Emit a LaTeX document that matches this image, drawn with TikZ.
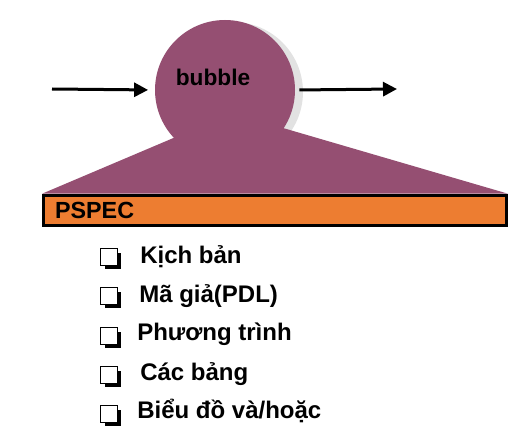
\documentclass[tikz,border=0pt]{standalone}
\usepackage{fontspec}
\setmainfont{Liberation Sans}
\usetikzlibrary{arrows.meta,positioning,shadows}
\definecolor{BubblePurple}{RGB}{149,79,114}
\definecolor{SpecOrange}{RGB}{237,125,49}
\definecolor{ShadowGray}{RGB}{226,226,226}
\tikzset{
  bubble/.style={circle, fill=BubblePurple, minimum size=105pt, inner sep=0pt},
  specbox/.style={rectangle, draw=black, line width=2.25pt, fill=SpecOrange,
    minimum width=347pt, minimum height=23pt, text width=330pt, inner xsep=8pt,
    align=left, font=\bfseries\fontsize{17.5}{20}\selectfont},
  item/.style={anchor=base west, inner sep=0pt, font=\bfseries\fontsize{18}{20}\selectfont},
  checkbox/.style={rectangle, draw=black, line width=0.8pt, fill=white,
    minimum size=12.5pt, inner sep=0pt,
    drop shadow={shadow xshift=3pt, shadow yshift=-3pt, fill=black, opacity=1}},
  flow/.style={-{Triangle[length=10.5pt, width=10.5pt]}, line width=2.25pt, draw=black}
}
\begin{document}
\begin{tikzpicture}[x=0.75pt, y=-0.75pt]
  \useasboundingbox (0,0) rectangle (532,431);
  % bubble with its shadow
  \fill[ShadowGray] (233,92) circle (52.5pt);
  \node[bubble] (bubble) at (225,90) {};
  \node[specbox] (pspec) at (275,210.5) {PSPEC};
  \fill[BubblePurple] (bubble.-137) -- (pspec.north west) -- (pspec.north east)
    -- (bubble.-33) -- (bubble.center) -- cycle;
  \node[specbox] at (pspec) {PSPEC};
  \node[anchor=base, inner sep=0pt, font=\bfseries\fontsize{17}{20}\selectfont]
    (label) at (213,86) {bubble};
  % data flows
  \coordinate (src) at (52,89);
  \coordinate (dst) at (397,89);
  \draw[flow, shorten >=5pt] (src) -- (bubble.west);
  \draw[flow, shorten <=3pt] (bubble.east) -- (dst);
  % contents of the PSPEC
  \node[item] (kb) at (140,263) {Kịch bản};
  \node[item] (mg) at (139,302) {Mã giả(PDL)};
  \node[item] (pt) at (137,340) {Phương trình};
  \node[item] (cb) at (140,380) {Các bảng};
  \node[item] (bd) at (137,418) {Biểu đồ và/hoặc};
  \node[checkbox] (box1) at (109,257) {};
  \node[checkbox] (box2) at (109,296) {};
  \node[checkbox] (box3) at (109,336) {};
  \node[checkbox] (box4) at (109,375) {};
  \node[checkbox] (box5) at (109,414) {};
\end{tikzpicture}
\end{document}
